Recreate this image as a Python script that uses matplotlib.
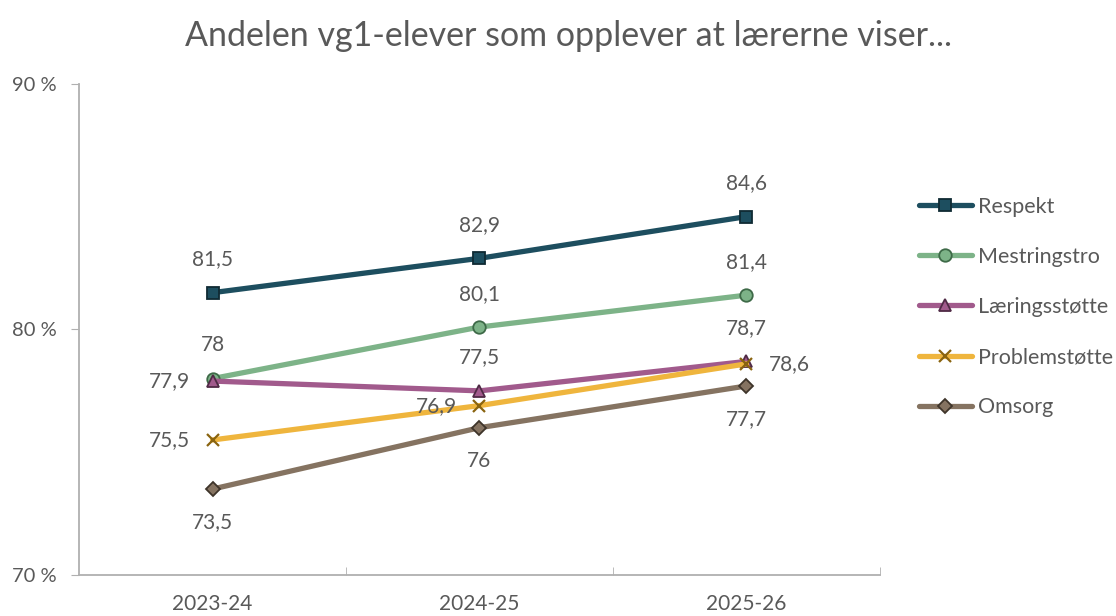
import matplotlib
matplotlib.use("Agg")
from matplotlib import pyplot as plt
from matplotlib.ticker import FuncFormatter

plt.rcParams['font.family'] = ['Lato', 'DejaVu Sans']

years = ['2023-24', '2024-25', '2025-26']
respekt = [81.5, 82.9, 84.6]
mestringstro = [78.0, 80.1, 81.4]
laeringsstotte = [77.9, 77.5, 78.7]
problemstotte = [75.5, 76.9, 78.6]
omsorg = [73.5, 76.0, 77.7]

grey = '#595959'

# name, values, line colour, marker, marker face, marker edge, label positions
series = [
    ('Respekt', respekt, '#1d4e5f', 's', '#1d4e5f', '#0f2a33', ['above', 'above', 'above']),
    ('Mestringstro', mestringstro, '#7db388', 'o', '#7db388', '#3e6a48', ['above', 'above', 'above']),
    ('Læringsstøtte', laeringsstotte, '#a15a8c', '^', '#a15a8c', '#4f2a45', ['left', 'above', 'above']),
    ('Problemstøtte', problemstotte, '#efb53d', 'x', '#8a6410', '#8a6410', ['left', 'left', 'right']),
    ('Omsorg', omsorg, '#857361', 'D', '#857361', '#3e342a', ['below', 'below', 'below']),
]

fig = plt.figure(figsize=(11.16, 6.16), dpi=100)
ax = fig.add_axes([0.0708, 0.0666, 0.7177, 0.797])

x = list(range(len(years)))
offsets = {'above': (0, 24, 'center', 'center'),
           'below': (0, -24, 'center', 'center'),
           'left': (-16, 0, 'right', 'center'),
           'right': (16, 0, 'left', 'center')}

for name, vals, col, mk, face, edge, pos in series:
    ms = 9 if mk != 'D' else 7
    ax.plot(x, vals, color=col, lw=3.8, marker=mk, ms=ms, mfc=face, mec=edge,
            mew=1.3 if mk != 'x' else 1.6, label=name, solid_capstyle='round', zorder=3)
    for xi, v, p in zip(x, vals, pos):
        dx, dy, ha, va = offsets[p]
        txt = ('%g' % v).replace('.', ',')
        ax.annotate(txt, (xi, v), xytext=(dx, dy), textcoords='offset points',
                    ha=ha, va=va, fontsize=15, color=grey)

ax.set_xlim(-0.5, 2.5)
ax.set_ylim(70, 90)
ax.set_yticks([70, 80, 90])
ax.yaxis.set_major_formatter(FuncFormatter(lambda v, p: '%d %%' % v))
ax.set_xticks(x)
ax.set_xticklabels(years)
ax.set_xticks([0.5, 1.5, 2.5], minor=True)
ax.tick_params(axis='x', which='major', length=0, labelsize=15, colors=grey, pad=14)
ax.tick_params(axis='x', which='minor', length=6, color='#b0b0b0', direction='in')
ax.tick_params(axis='y', length=6, color='#b0b0b0', labelsize=14.5, labelcolor=grey, pad=10)
for s in ['top', 'right']:
    ax.spines[s].set_visible(False)
for s in ['left', 'bottom']:
    ax.spines[s].set_color('#b0b0b0')
    ax.spines[s].set_linewidth(1.3)

fig.suptitle('Andelen vg1-elever som opplever at lærerne viser...', x=0.509, y=0.968,
             fontsize=24.5, color=grey)

leg = ax.legend(loc='upper left', bbox_to_anchor=(1.024, 0.81), frameon=False,
                fontsize=15.5, labelcolor=grey, handlelength=2.5, handletextpad=0.25,
                labelspacing=1.4)

fig.savefig('out.png', dpi=100)
